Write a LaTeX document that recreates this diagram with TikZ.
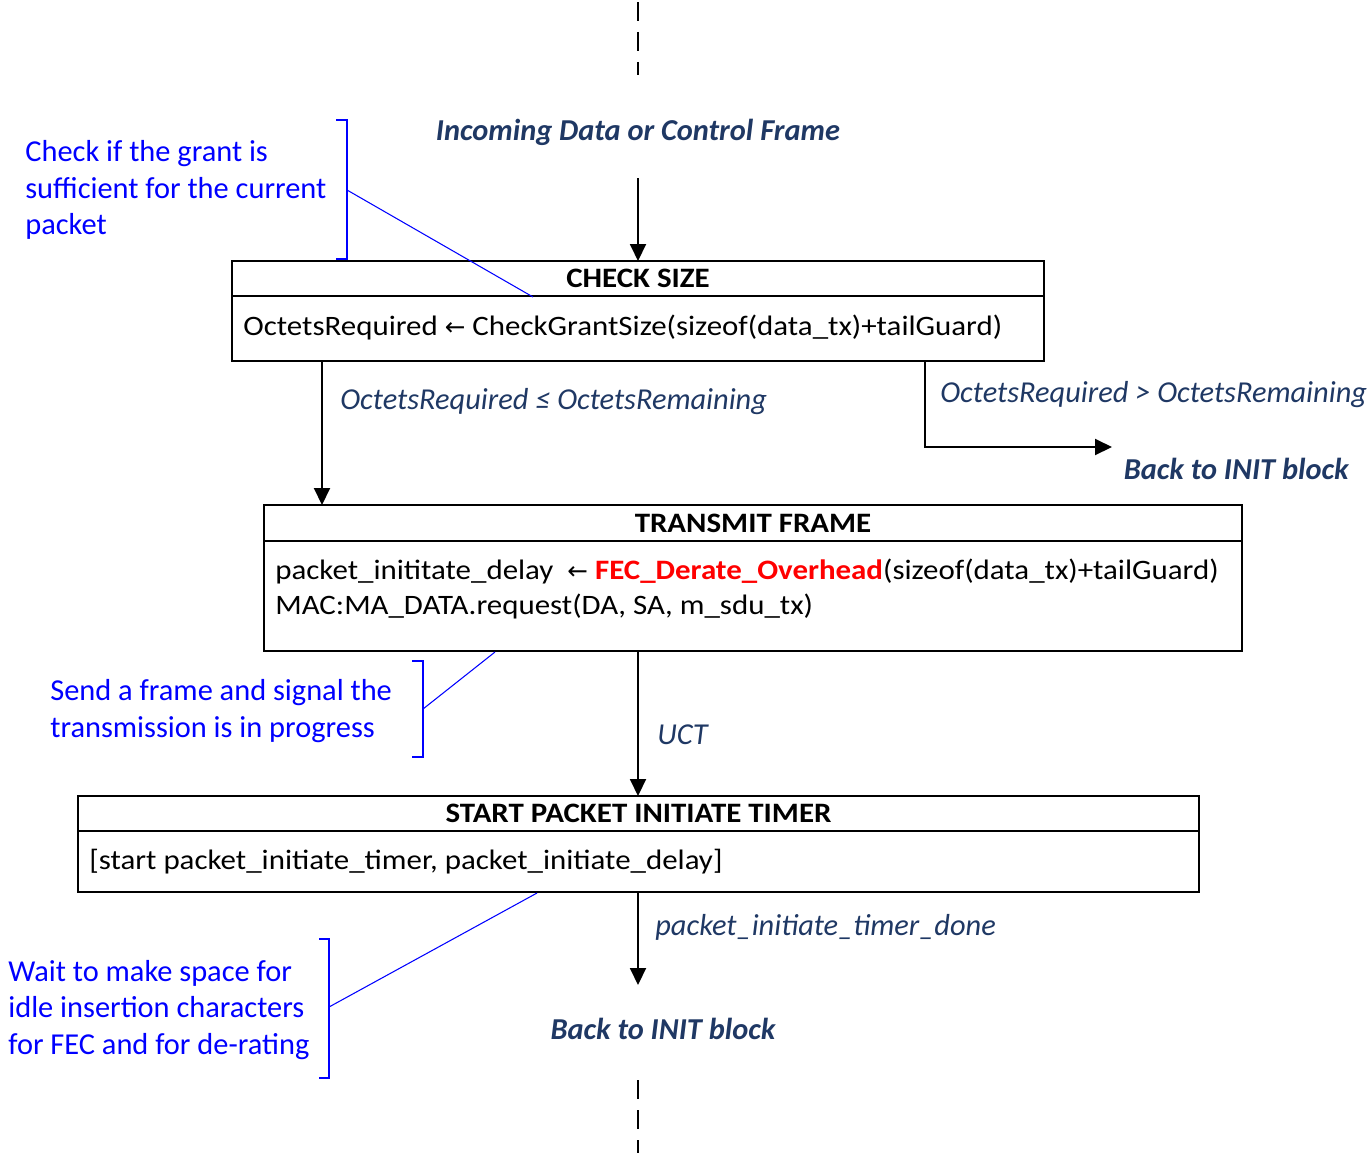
\documentclass[tikz,border=0pt]{standalone}
\usepackage{fontspec}
\setmainfont{Carlito}
\newfontfamily\condfont[FakeStretch=1.1]{Carlito}
\newfontfamily\symfont{DejaVu Sans}
\usetikzlibrary{arrows.meta,positioning}

\definecolor{noteblue}{RGB}{0,0,255}
\definecolor{navy}{RGB}{31,56,100}
\definecolor{hotred}{RGB}{255,0,0}

\newcommand{\getsarrow}{{\symfont\fontsize{14}{14}\selectfont ←}}

\tikzset{
  flow/.style={-{Triangle[length=0.34cm,width=0.32cm]}, line width=1.1pt},
  boxhead/.style={draw, line width=1.1pt, inner sep=0pt, outer sep=0pt, minimum height=0.70cm,
    font=\condfont\fontsize{16}{19}\selectfont\bfseries},
  boxbody/.style={draw, line width=1.1pt, inner sep=0pt, outer sep=0pt},
  bodytext/.style={anchor=west, inner sep=0pt, align=left,
    font=\condfont\fontsize{16}{20.4}\selectfont},
  note/.style={anchor=west, inner sep=0pt, align=left, text=noteblue,
    font=\fontsize{17.3}{20.7}\selectfont},
  cond/.style={inner sep=0pt, text=navy, font=\fontsize{17.3}{20}\selectfont\itshape},
  goal/.style={inner sep=0pt, text=navy, font=\fontsize{17.3}{20}\selectfont\bfseries\itshape},
  bracket/.style={draw=noteblue, line width=0.6pt},
  dashline/.style={line width=1.1pt, dash pattern=on 0.38cm off 0.22cm},
}

\begin{document}
\begin{tikzpicture}[x=0.02cm, y=-0.02cm]
\useasboundingbox (0,0) rectangle (1368,1153);

% entry
\coordinate (topA) at (638,2);
\coordinate (topB) at (638,75);
\draw[dashline] (topA) -- (topB);
\node[goal] (incoming) at (638,132) {Incoming Data or Control Frame};
\coordinate (inTop) at (638,178);

% CHECK SIZE
\node[boxhead, minimum width=16.24cm] (chk) at (638,278.5) {CHECK SIZE};
\node[boxbody, minimum width=16.24cm, minimum height=1.30cm, below=0pt of chk] (chkb) {};
\node[bodytext] (chkt) at (243,327)
  {OctetsRequired \getsarrow\ CheckGrantSize(sizeof(data\_tx)+tailGuard)};
\draw[flow] (inTop) -- (chk.north);

% TRANSMIT FRAME
\node[boxhead, minimum width=19.56cm, minimum height=0.72cm] (tx) at (753,523) {TRANSMIT FRAME};
\node[boxbody, minimum width=19.56cm, minimum height=2.20cm, below=0pt of tx] (txb) {};
\node[bodytext] (txt) at (275,589)
  {packet\_inititate\_delay \ \getsarrow\ \textcolor{hotred}{\bfseries FEC\_Derate\_Overhead}(sizeof(data\_tx)+tailGuard)\\
   MAC:MA\_DATA.request(DA, SA, m\_sdu\_tx)};

% size check outcomes
\coordinate (okFork) at (322,361);
\draw[flow] (okFork) -- (okFork |- tx.north);
\node[cond, anchor=west] (okLbl) at (340,402) {OctetsRequired ≤ OctetsRemaining};
\coordinate (noFork) at (925,361);
\coordinate (noEnd) at (1112,447);
\draw[flow] (noFork) |- (noEnd);
\node[cond, anchor=west] (noLbl) at (940,395) {OctetsRequired > OctetsRemaining};
\node[goal, anchor=east] (backA) at (1349,469) {Back to INIT block};

% START PACKET INITIATE TIMER
\node[boxhead, minimum width=22.42cm] (st) at (638.5,813.5) {START PACKET INITIATE TIMER};
\node[boxbody, minimum width=22.42cm, minimum height=1.22cm, below=0pt of st] (stb) {};
\node[bodytext] (stt) at (89,862) {[start packet\_initiate\_timer, packet\_initiate\_delay]};
\coordinate (uctTop) at (638,651);
\draw[flow] (uctTop) -- (uctTop |- st.north);
\node[cond, anchor=west] (uctLbl) at (657,735) {UCT};

% exit
\coordinate (doneTop) at (638,892);
\coordinate (doneEnd) at (638,985);
\draw[flow] (doneTop) -- (doneEnd);
\node[cond, anchor=west] (doneLbl) at (655,927) {packet\_initiate\_timer\_done};
\node[goal] (backB) at (663,1029) {Back to INIT block};
\coordinate (botA) at (638,1080);
\coordinate (botB) at (638,1153);
\draw[dashline] (botA) -- (botB);

% notes
\node[note] (noteChk) at (25,190) {Check if the grant is\\sufficient for the current\\packet};
\draw[bracket] (336,120) -- (347,120) -- (347,259) -- (336,259);
\draw[bracket] (347,190) -- (533,297);

\node[note] (noteTx) at (50,711) {Send a frame and signal the\\transmission is in progress};
\draw[bracket] (412,661) -- (423,661) -- (423,757) -- (412,757);
\draw[bracket] (423,709) -- (495,652);

\node[note] (noteSt) at (8,1010) {Wait to make space for\\idle insertion characters\\for FEC and for de-rating};
\draw[bracket] (319,939) -- (329,939) -- (329,1078) -- (319,1078);
\draw[bracket] (329,1007) -- (537,893);
\end{tikzpicture}
\end{document}
